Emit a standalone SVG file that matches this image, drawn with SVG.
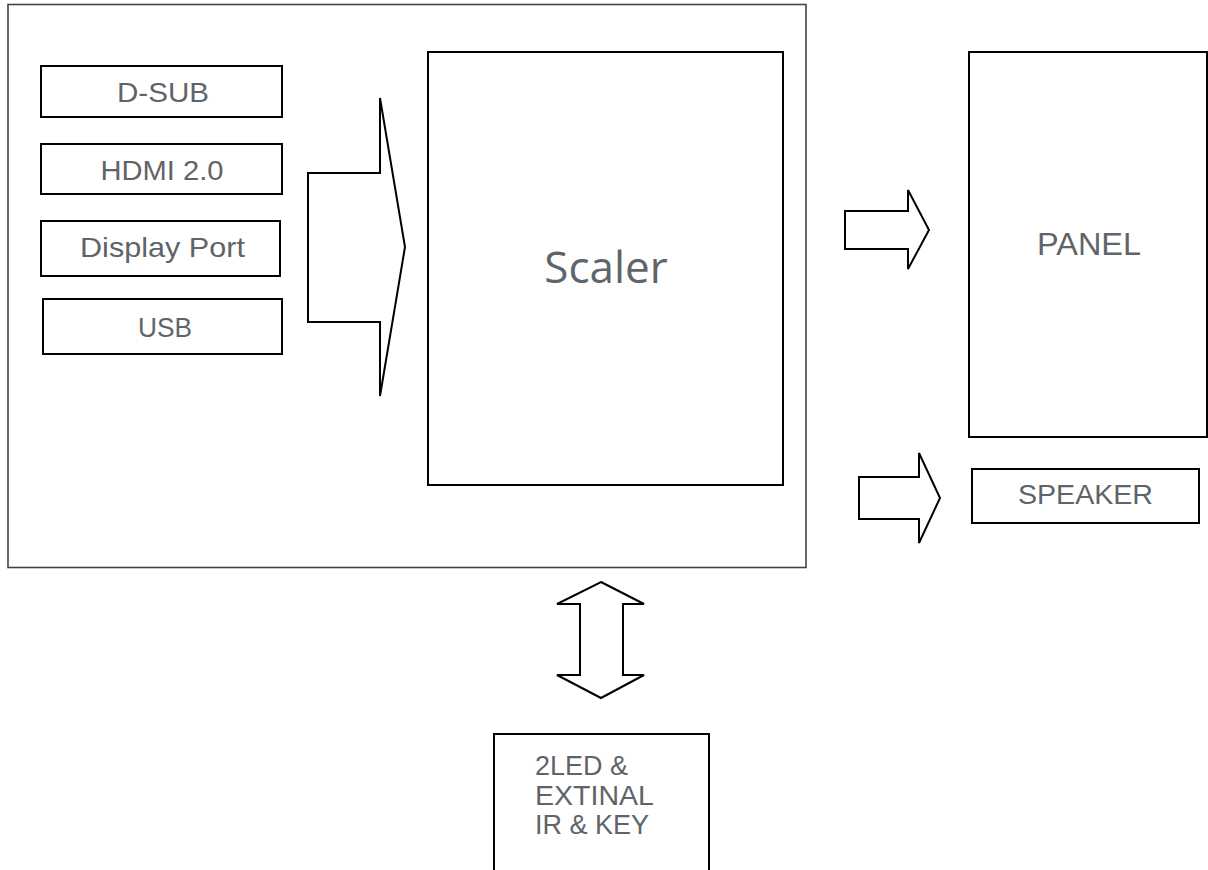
<svg xmlns="http://www.w3.org/2000/svg" width="1208" height="870" viewBox="0 0 1208 870">
<style>
.box{fill:none;stroke:#000;stroke-width:2}
.outer{fill:none;stroke:#444;stroke-width:1.6}
.arr{fill:#fff;stroke:#000;stroke-width:2;stroke-linejoin:miter}
.geo{font-family:"Liberation Sans",Arial,sans-serif;fill:#5f6468;font-size:28px;text-anchor:middle}
.sans{font-family:"Liberation Sans",Arial,sans-serif;fill:#5f6468}
.scaler{font-family:"Open Sans","Noto Sans",sans-serif;fill:#5c666c;font-size:44px;text-anchor:middle}
</style>
<rect width="1208" height="870" fill="#fff"/>
<g id="mainboard"><rect class="outer" x="8" y="4.5" width="798" height="563"/></g>
<g id="dsub"><rect class="box" x="41" y="66" width="241" height="51"/><text class="geo" x="163" y="102" textLength="92" lengthAdjust="spacingAndGlyphs">D-SUB</text></g>
<g id="hdmi"><rect class="box" x="41" y="144" width="241" height="50"/><text class="geo" x="162" y="180" textLength="123" lengthAdjust="spacingAndGlyphs">HDMI 2.0</text></g>
<g id="dp"><rect class="box" x="41" y="221" width="239" height="55"/><text class="geo" x="162.5" y="257" textLength="165" lengthAdjust="spacingAndGlyphs">Display Port</text></g>
<g id="usb"><rect class="box" x="43" y="299" width="239" height="55"/><text class="geo" x="165" y="337" textLength="54" lengthAdjust="spacingAndGlyphs">USB</text></g>
<g id="scaler"><rect class="box" x="428" y="52" width="355" height="433"/><text class="scaler" x="606" y="283">Scaler</text></g>
<g id="panel"><rect class="box" x="969" y="52" width="238" height="385"/><text class="sans" x="1089" y="255" font-size="31" text-anchor="middle" textLength="104" lengthAdjust="spacingAndGlyphs">PANEL</text></g>
<g id="speaker"><rect class="box" x="972" y="469" width="227" height="54"/><text class="sans" x="1085.5" y="504" font-size="27" text-anchor="middle" textLength="135" lengthAdjust="spacingAndGlyphs">SPEAKER</text></g>
<g id="ledkey"><rect class="box" x="494" y="734" width="215" height="150"/>
<text class="sans" font-size="27"><tspan x="535" y="775">2LED &amp;</tspan><tspan x="535" y="805" textLength="119" lengthAdjust="spacingAndGlyphs">EXTINAL</tspan><tspan x="535" y="834">IR &amp; KEY</tspan></text></g>
<g id="connectors">
<path class="arr" d="M308 173 H380 V98 L405 247 L380 396 V322 H308 Z"/>
<path class="arr" d="M845 211 H908 V190 L929 230 L908 269 V249 H845 Z"/>
<path class="arr" d="M859 477 H919 V453 L940 498 L919 543 V519 H859 Z"/>
<path class="arr" d="M601 582 L644 604 H623 V675 H644 L601 698 L557 675 H580 V604 H557 Z"/>
</g>
</svg>
